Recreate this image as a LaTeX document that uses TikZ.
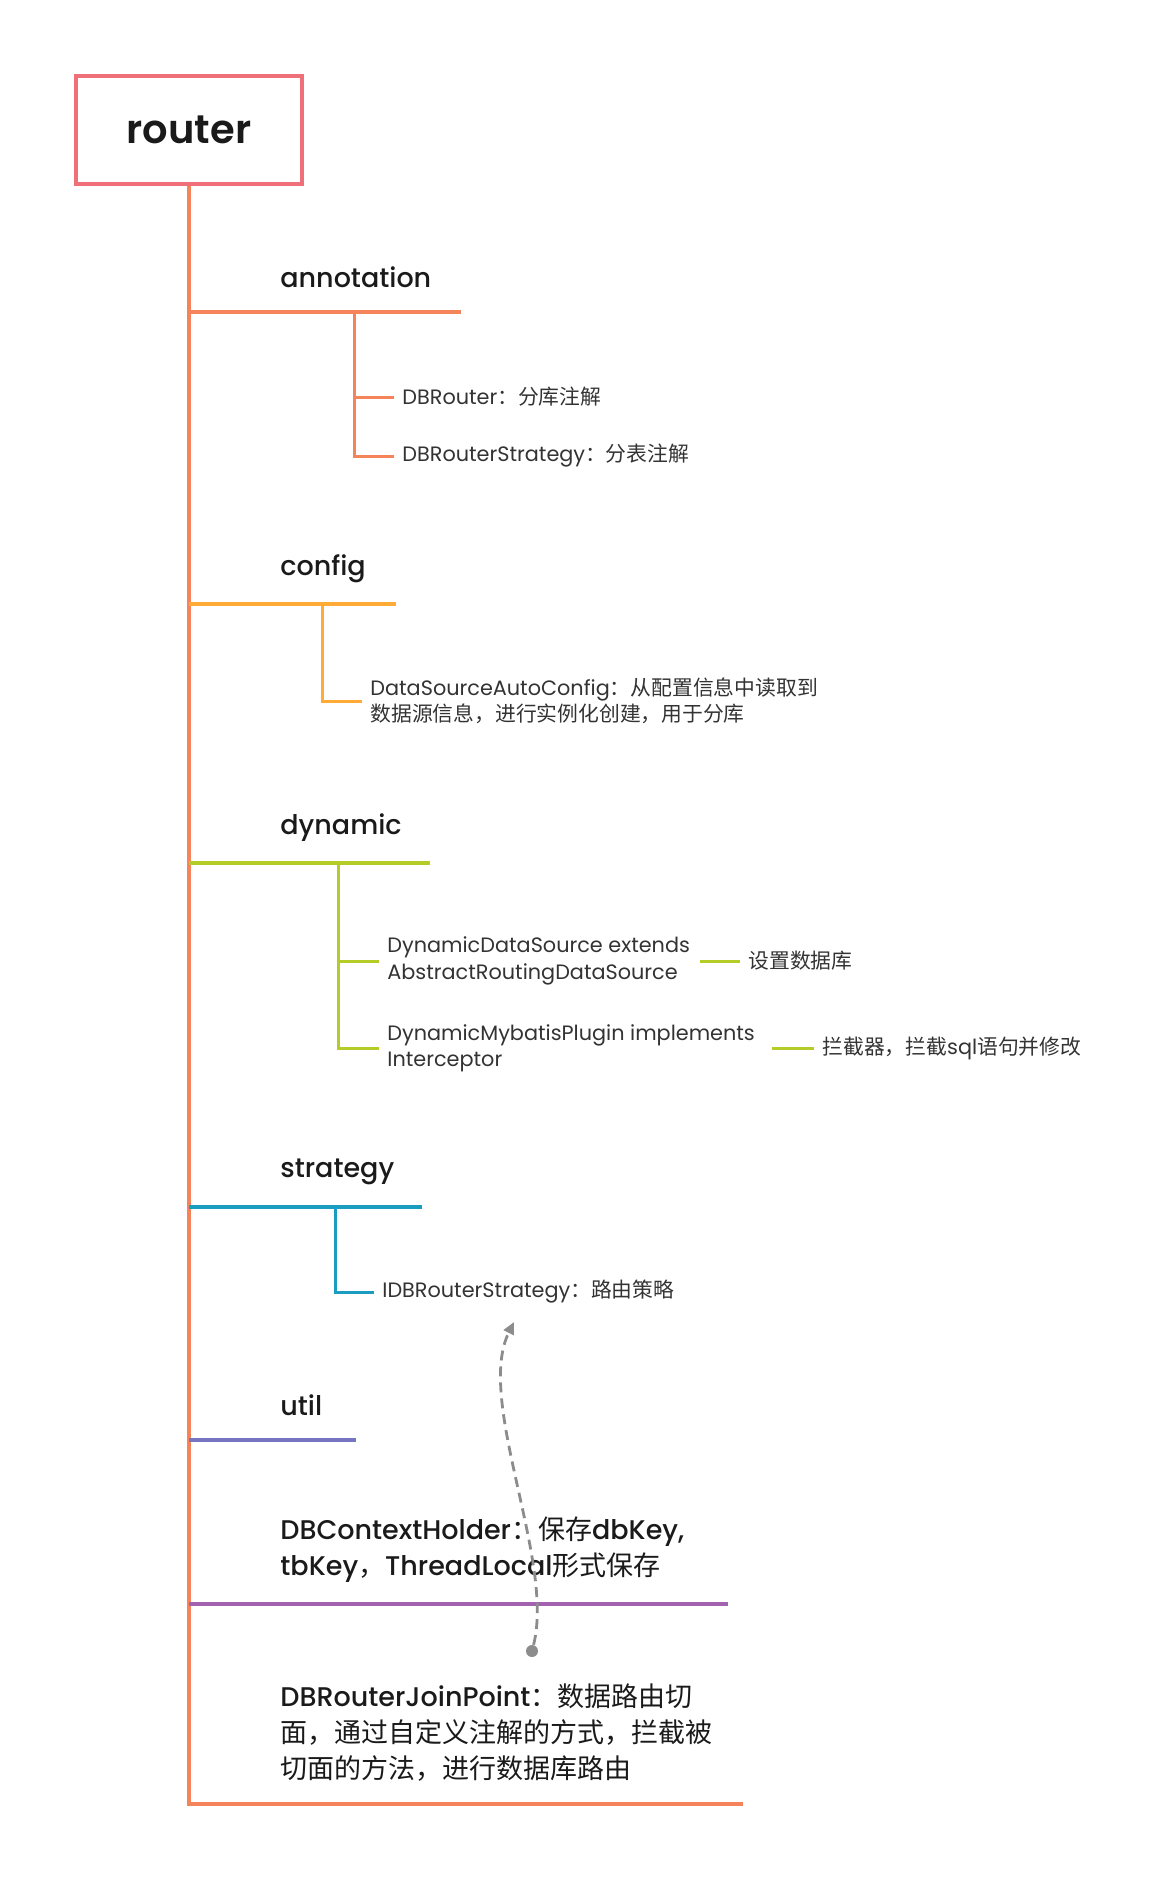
\documentclass[tikz,border=0pt]{standalone}
\usepackage{fontspec}
\setmainfont{Poppins}
\newfontfamily\cjk{Noto Sans CJK SC}
\IfFontExistsTF{Poppins Medium}{\newfontfamily\headfont{Poppins Medium}}{\newfontfamily\headfont{Poppins}[FakeBold=1.2]}
\IfFontExistsTF{Poppins SemiBold}{\newfontfamily\rootfont{Poppins SemiBold}}{\newfontfamily\rootfont{Poppins}[FakeBold=2]}
\usetikzlibrary{arrows.meta}

\definecolor{rootred}{HTML}{F0707A}
\definecolor{coral}{HTML}{F6845A}
\definecolor{amber}{HTML}{FFAB36}
\definecolor{lime}{HTML}{B5CB27}
\definecolor{teal}{HTML}{1B9DC2}
\definecolor{slate}{HTML}{7775C0}
\definecolor{plum}{HTML}{A262B0}
\definecolor{linkgray}{HTML}{8C8C8C}
\definecolor{textdark}{HTML}{1A1A1A}
\definecolor{textgray}{HTML}{333333}

\begin{document}
\begin{tikzpicture}[
        rootnode/.style={rectangle, draw=rootred, line width=2pt, minimum width=113pt, minimum height=54pt, font=\rootfont\fontsize{20}{24}\selectfont, text=textdark},
        headnode/.style={anchor=west, inner sep=0pt, align=left, font=\headfont\fontsize{13.5}{18}\selectfont, text=textdark},
        leafnode/.style={anchor=west, inner xsep=4pt, inner ysep=0pt, align=left, font=\fontsize{10.4}{13.2}\selectfont, text=textgray},
        branch/.style={line width=2pt},
        twig/.style={line width=1.5pt},
        dotnode/.style={circle, fill=linkgray, inner sep=0pt, minimum size=6pt},
        linkarrow/.style={draw=linkgray, line width=1.4pt, dash pattern=on 5pt off 3pt, -{Triangle[length=6pt,width=5.5pt]}},
        x=0.5pt,y=-0.5pt,
    ]
    \useasboundingbox (0,0) rectangle (1165,1881);
    \node[rootnode] (0) at (189,130) {router};
    \node[headnode] (1) at (280,277) {annotation};
    \node[leafnode] (2) at (394,397) {DBRouter{\cjk ：分库注解}};
    \node[leafnode] (3) at (394,456) {DBRouterStrategy{\cjk ：分表注解}};
    \node[headnode] (4) at (280,569) {config};
    \node[leafnode] (5) at (362,701) {DataSourceAutoConfig{\cjk ：从配置信息中读取到}\\{\cjk 数据源信息，进行实例化创建，用于分库}};
    \node[headnode] (6) at (280,828) {dynamic};
    \node[leafnode] (7) at (379,961) {DynamicDataSource extends\\AbstractRoutingDataSource};
    \node[leafnode] (8) at (740,961) {\cjk 设置数据库};
    \node[leafnode] (9) at (379,1048) {DynamicMybatisPlugin implements\\Interceptor};
    \node[leafnode] (10) at (814,1048) {{\cjk 拦截器，拦截}sql{\cjk 语句并修改}};
    \node[headnode] (11) at (280,1172) {strategy};
    \node[leafnode] (12) at (374,1292) {IDBRouterStrategy{\cjk ：路由策略}};
    \node[headnode] (13) at (280,1405) {util};
    \node[headnode] (14) at (280,1550) {DBContextHolder{\cjk ：保存}dbKey,\\tbKey{\cjk ，}ThreadLocal{\cjk 形式保存}};
    \node[headnode] (15) at (280,1733) {DBRouterJoinPoint{\cjk ：数据路由切}\\{\cjk 面，通过自定义注解的方式，拦截被}\\{\cjk 切面的方法，进行数据库路由}};
    \node[dotnode] (16) at (532,1651) {};
    \coordinate (17) at (514,1322);
    % trunk and branches
    \draw [branch, coral] (0.south) -- (189,1804) -- (743,1804);
    \draw [branch, coral] (189,312) -- (461,312);
    \draw [branch, amber] (189,604) -- (396,604);
    \draw [branch, lime] (189,863) -- (430,863);
    \draw [branch, teal] (189,1207) -- (422,1207);
    \draw [branch, slate] (189,1440) -- (356,1440);
    \draw [branch, plum] (189,1604) -- (728,1604);
    % leaves
    \draw [twig, coral] (354,312) |- (2.west);
    \draw [twig, coral] (354,312) |- (3.west);
    \draw [twig, amber] (322,604) |- (5.west);
    \draw [twig, lime] (338,863) |- (7.west);
    \draw [twig, lime] (338,863) |- (9.west);
    \draw [twig, lime] (700,961) -- (8.west);
    \draw [twig, lime] (772,1048) -- (10.west);
    \draw [twig, teal] (335,1207) |- (12.west);
    \draw [linkarrow] (16) .. controls (555,1560) and (475,1400) .. (17);
\end{tikzpicture}
\end{document}
